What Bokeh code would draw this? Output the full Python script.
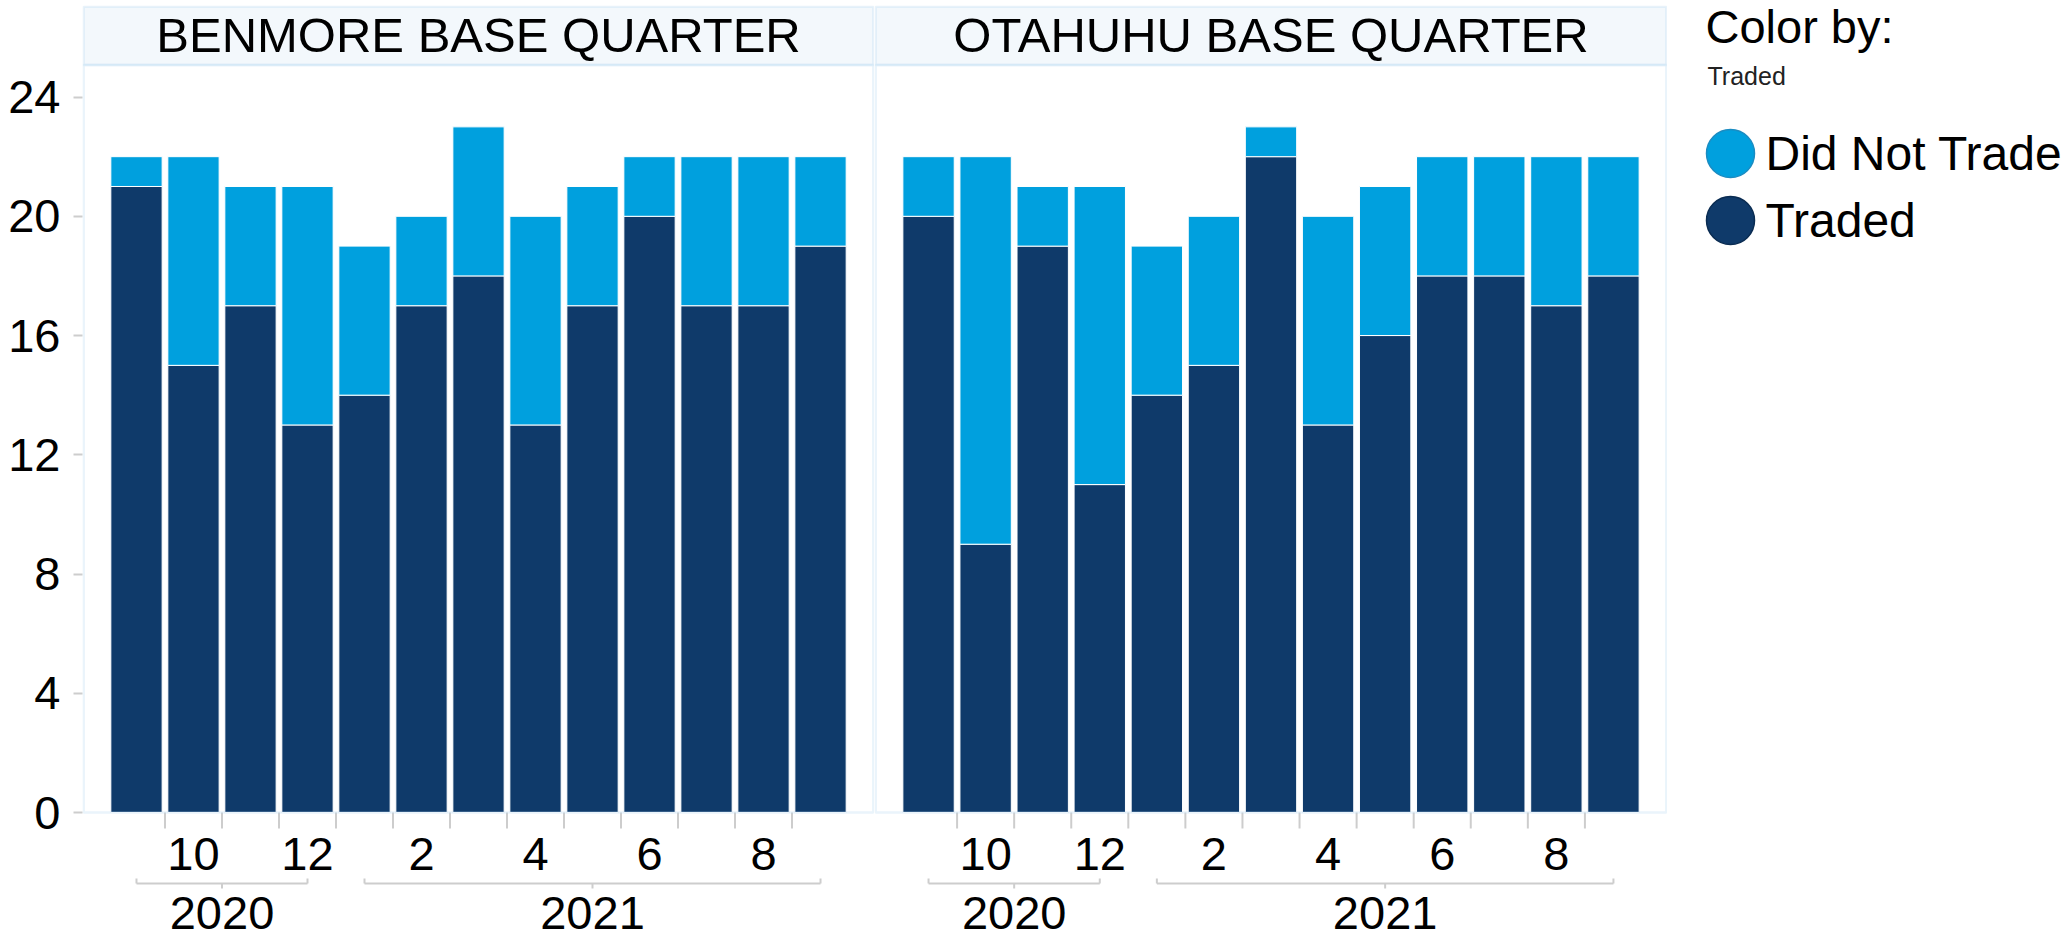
from bokeh.plotting import figure
from bokeh.models import ColumnDataSource, Range1d, FixedTicker, BoxAnnotation
from bokeh.layouts import row
from bokeh.core.properties import value
from bokeh.embed import file_html
from bokeh.resources import INLINE

# ---------------- data ----------------
months = ["9", "10", "11", "12", "1", "2", "3", "4", "5", "6", "7", "8", "9"]
years = ["2020"] * 4 + ["2021"] * 9
labelled_months = ["10", "12", "2", "4", "6", "8"]
panels = ["BENMORE BASE QUARTER", "OTAHUHU BASE QUARTER"]
benmore_traded = [21, 15, 17, 13, 14, 17, 18, 13, 17, 20, 17, 17, 19]
benmore_not_traded = [1, 7, 4, 8, 5, 3, 5, 7, 4, 2, 5, 5, 3]
otahuhu_traded = [20, 9, 19, 11, 14, 15, 22, 13, 16, 18, 18, 17, 18]
otahuhu_not_traded = [2, 13, 2, 10, 5, 5, 1, 7, 5, 4, 4, 5, 4]
y_ticks = [0, 4, 8, 12, 16, 20, 24]
legend_items = ["Did Not Trade", "Traded"]

# ---------------- style ----------------
DARK = "#0F3A6A"
LIGHT = "#00A0DE"
DARK_EDGE = "#0A2C52"
LIGHT_EDGE = "#1B8CC2"
BORDER = "#BADCF2"
HEADER_FILL = "#F3F8FC"
GREY = "#CDCDCD"
FONT = "Liberation Sans"

TOP_PX = 5
FRAME_H = 935
PPU = 29.81            # pixels per unit on y
BASE_PX = 807          # from frame top to y = 0
HEADER_PX = 59.5
Y_MAX = BASE_PX / PPU
Y_MIN = -(FRAME_H - BASE_PX) / PPU
PLOT_TOP = (BASE_PX - HEADER_PX) / PPU
N = len(months)
PAD = 0.447
X0, X1 = -0.5 - PAD, N - 0.5 + PAD


def px(d):
    return d / PPU


def make_panel(name, traded, not_traded, left_axis, fw):
    p = figure(
        frame_width=fw, frame_height=FRAME_H,
        x_range=Range1d(X0, X1),
        y_range=Range1d(Y_MIN, Y_MAX),
        output_backend="svg", toolbar_location=None,
        x_axis_location=None,
        y_axis_location="left" if left_axis else None,
        min_border_left=82 if left_axis else 0,
        min_border_right=0, min_border_top=TOP_PX, min_border_bottom=0,
        background_fill_color="white", border_fill_color="white",
        outline_line_color=None,
    )
    for g in p.grid:
        g.visible = False

    xpx = (X1 - X0) / fw          # x units per pixel
    inset = 1.2 * xpx
    top_in = Y_MAX - px(1.2)

    # header and plot-area frame
    p.add_layout(BoxAnnotation(left=X0 + inset, right=X1 - inset, bottom=PLOT_TOP, top=top_in,
                               fill_color=HEADER_FILL, fill_alpha=1.0,
                               line_color=BORDER, line_width=2.5, level="underlay"))
    p.add_layout(BoxAnnotation(left=X0 + inset, right=X1 - inset, bottom=0, top=PLOT_TOP,
                               fill_alpha=0.0, line_color=BORDER, line_width=2.5))

    src = ColumnDataSource(dict(x=list(range(N)), traded=traded, not_traded=not_traded))
    p.vbar_stack(["traded", "not_traded"], x="x", width=0.9, color=[DARK, LIGHT],
                 line_color="white", line_width=1, source=src)

    # title in header
    p.text(x=[(N - 1) / 2], y=[(PLOT_TOP + Y_MAX) / 2], text=[name],
           text_align="center", text_baseline="middle",
           text_font=value(FONT), text_font_size=value("49px"), text_color="black")

    # x ticks at month boundaries
    bx = [i + 0.5 for i in range(N - 1)]
    p.segment(x0=bx, y0=[0] * len(bx), x1=bx, y1=[-px(16)] * len(bx),
              line_color=GREY, line_width=2)

    # month labels
    mx = [i for i, m in enumerate(months) if m in labelled_months]
    mt = [months[i] for i in mx]
    p.text(x=mx, y=[-px(41)] * len(mx), text=mt, text_align="center",
           text_baseline="middle", text_font=value(FONT),
           text_font_size=value("47px"), text_color="black")

    # year brackets
    groups = []
    for i, yv in enumerate(years):
        if not groups or groups[-1][0] != yv:
            groups.append([yv, i, i])
        else:
            groups[-1][2] = i
    for yv, a, b in groups:
        yb = -px(71)
        mid = (a + b) / 2
        p.segment(x0=[a, a, b, mid], y0=[yb, yb, yb, yb],
                  x1=[b, a, b, mid], y1=[yb, yb + px(5), yb + px(5), yb - px(5)],
                  line_color=GREY, line_width=2)
        p.text(x=[mid], y=[-px(100)], text=[yv], text_align="center",
               text_baseline="middle", text_font=value(FONT),
               text_font_size=value("47px"), text_color="black")

    if left_axis:
        ax = p.yaxis[0]
        ax.ticker = FixedTicker(ticks=y_ticks)
        ax.axis_line_color = None
        ax.major_tick_line_color = GREY
        ax.major_tick_line_width = 2
        ax.major_tick_out = 9
        ax.major_tick_in = 0
        ax.minor_tick_line_color = None
        ax.major_label_text_font = FONT
        ax.major_label_text_font_size = "47px"
        ax.major_label_text_color = "black"
        ax.major_label_standoff = 13
    return p


p1 = make_panel(panels[0], benmore_traded, benmore_not_traded, True, 792)
p2 = make_panel(panels[1], otahuhu_traded, otahuhu_not_traded, False, 793)

# legend panel (its frame is aligned with the panels' frames, which start at y = 5)
LW = 396
LH = FRAME_H
leg = figure(frame_width=LW, frame_height=LH, x_range=Range1d(0, LW),
             y_range=Range1d(LH, 0), output_backend="svg", toolbar_location=None,
             x_axis_location=None, y_axis_location=None,
             min_border_left=0, min_border_right=0, min_border_top=TOP_PX, min_border_bottom=0,
             outline_line_color=None, background_fill_color="white", border_fill_color="white")
for g in leg.grid:
    g.visible = False
leg.text(x=[38], y=[21], text=["Color by:"], text_baseline="middle",
         text_font=value(FONT), text_font_size=value("47px"), text_color="black")
leg.text(x=[40], y=[70], text=["Traded"], text_baseline="middle",
         text_font=value(FONT), text_font_size=value("25px"), text_color="#222222")
ly = [148 + 67 * i for i in range(len(legend_items))]
fills = [LIGHT if s == "Did Not Trade" else DARK for s in legend_items]
edges = [LIGHT_EDGE if s == "Did Not Trade" else DARK_EDGE for s in legend_items]
leg.scatter(x=[63] * len(ly), y=ly, size=48, fill_color=fills, line_color=edges, line_width=1.5)
leg.text(x=[98] * len(ly), y=ly, text=legend_items, text_baseline="middle",
         text_font=value(FONT), text_font_size=value("48px"), text_color="black")

layout = row(p1, p2, leg)
open("out.html", "w").write(file_html(layout, INLINE, title="Traded"))
